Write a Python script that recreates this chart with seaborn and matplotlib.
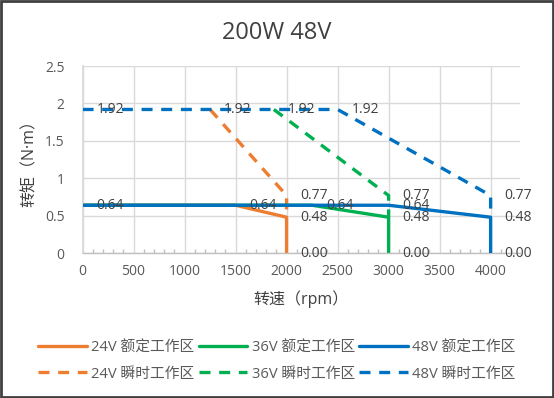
import matplotlib
matplotlib.use("Agg")
import matplotlib.pyplot as plt
import seaborn as sns
import pandas as pd
from matplotlib.ticker import MultipleLocator
from matplotlib.lines import Line2D

sns.set_theme(style="white")
plt.rcParams['font.family'] = ['Open Sans', 'Noto Sans CJK SC', 'DejaVu Sans']

title = "200W 48V"
xlabel = "转速（rpm）"
ylabel = "转矩（N·m）"

# rated (solid) curves
rated_24_x = [0, 1500, 2000, 2000]
rated_24_y = [0.64, 0.64, 0.48, 0.00]
rated_36_x = [0, 2250, 3000, 3000]
rated_36_y = [0.64, 0.64, 0.48, 0.00]
rated_48_x = [0, 3000, 4000, 4000]
rated_48_y = [0.64, 0.64, 0.48, 0.00]
# peak (dashed) curves
peak_24_x = [1250, 2000, 2000]
peak_24_y = [1.92, 0.77, 0.48]
peak_36_x = [1875, 3000, 3000]
peak_36_y = [1.92, 0.77, 0.48]
peak_48_x = [0, 2500, 4000, 4000]
peak_48_y = [1.92, 1.92, 0.77, 0.48]

labels = ["24V 额定工作区", "24V 瞬时工作区", "36V 额定工作区",
          "36V 瞬时工作区", "48V 额定工作区", "48V 瞬时工作区"]
colors = {"24": "#ED7D31", "36": "#00B050", "48": "#0070C0"}

series = [
    ("24", "rated", rated_24_x, rated_24_y),
    ("24", "peak", peak_24_x, peak_24_y),
    ("36", "rated", rated_36_x, rated_36_y),
    ("36", "peak", peak_36_x, peak_36_y),
    ("48", "rated", rated_48_x, rated_48_y),
    ("48", "peak", peak_48_x, peak_48_y),
]

fig = plt.figure(figsize=(5.54, 3.98), dpi=100)
fig.patch.set_facecolor("white")
ax = fig.add_axes([0.149, 0.364, 0.79, 0.470])

lw = 2.4
dash = (3.3, 2.6)
handles = []
for v, kind, xs, ys in series:
    df = pd.DataFrame({"x": xs, "y": ys})
    sns.lineplot(data=df, x="x", y="y", ax=ax, sort=False, color=colors[v],
                 linewidth=lw, estimator=None, zorder=3 if v == "48" else 2)
    line = ax.lines[-1]
    if kind == "peak":
        line.set_dashes(dash)
    handles.append(Line2D([], [], color=colors[v], linewidth=lw,
                          linestyle=(0, dash) if kind == "peak" else "-"))

# data labels (unique points)
seen = set()
for v, kind, xs, ys in series:
    for x, y in zip(xs, ys):
        key = (x, round(y, 2))
        if key in seen:
            continue
        seen.add(key)
        ax.annotate(f"{y:.2f}", (x, y), xytext=(10, 0), textcoords="offset points",
                    va="center", ha="left", fontsize=10, color="#404040", zorder=5)

ax.set_xlim(0, 4290)
ax.set_ylim(0, 2.5)
ax.xaxis.set_minor_locator(MultipleLocator(100))
ax.set_xticks([0, 500, 1000, 1500, 2000, 2500, 3000, 3500, 4000])
ax.set_xticklabels(["0", "500", "1000", "1500", "2000", "2500", "3000", "3500", "4000"])
ax.set_yticks([0, 0.5, 1, 1.5, 2, 2.5])
ax.set_yticklabels(["0", "0.5", "1", "1.5", "2", "2.5"])
ax.grid(True, color="#D9D9D9", linewidth=1.0, zorder=0)
ax.set_axisbelow(True)
ax.tick_params(axis="both", which="major", length=0, labelsize=10,
               labelcolor="#595959")
ax.tick_params(axis="y", which="major", pad=13)
ax.tick_params(axis="x", which="major", pad=8)
ax.tick_params(axis="x", which="minor", direction="in", length=3, color="#BFBFBF",
               bottom=True)
for s in ["top", "right"]:
    ax.spines[s].set_visible(False)
ax.spines["left"].set_color("#D9D9D9")
ax.spines["bottom"].set_color("#BFBFBF")
ax.spines["bottom"].set_linewidth(1.0)

ax.set_xlabel(xlabel, fontsize=11.5, color="#404040", labelpad=8)
ax.set_ylabel(ylabel, fontsize=11.5, color="#404040")
ax.yaxis.set_label_coords(-0.102, 0.5)
fig.text(0.5, 0.918, title, ha="center", va="center", fontsize=17, color="#404040")

fig.legend(handles, labels, loc="center", bbox_to_anchor=(0.5, 0.093), ncol=3,
           frameon=False, fontsize=10.6, handlelength=3.3, handletextpad=0.3,
           columnspacing=0.3, labelspacing=0.75, labelcolor="#595959")

border = plt.Rectangle((0.002, 0.002), 0.996, 0.996, transform=fig.transFigure,
                       fill=False, edgecolor="#404040", linewidth=2)
fig.patches.append(border)

fig.savefig("out.png", dpi=100, facecolor="white")
